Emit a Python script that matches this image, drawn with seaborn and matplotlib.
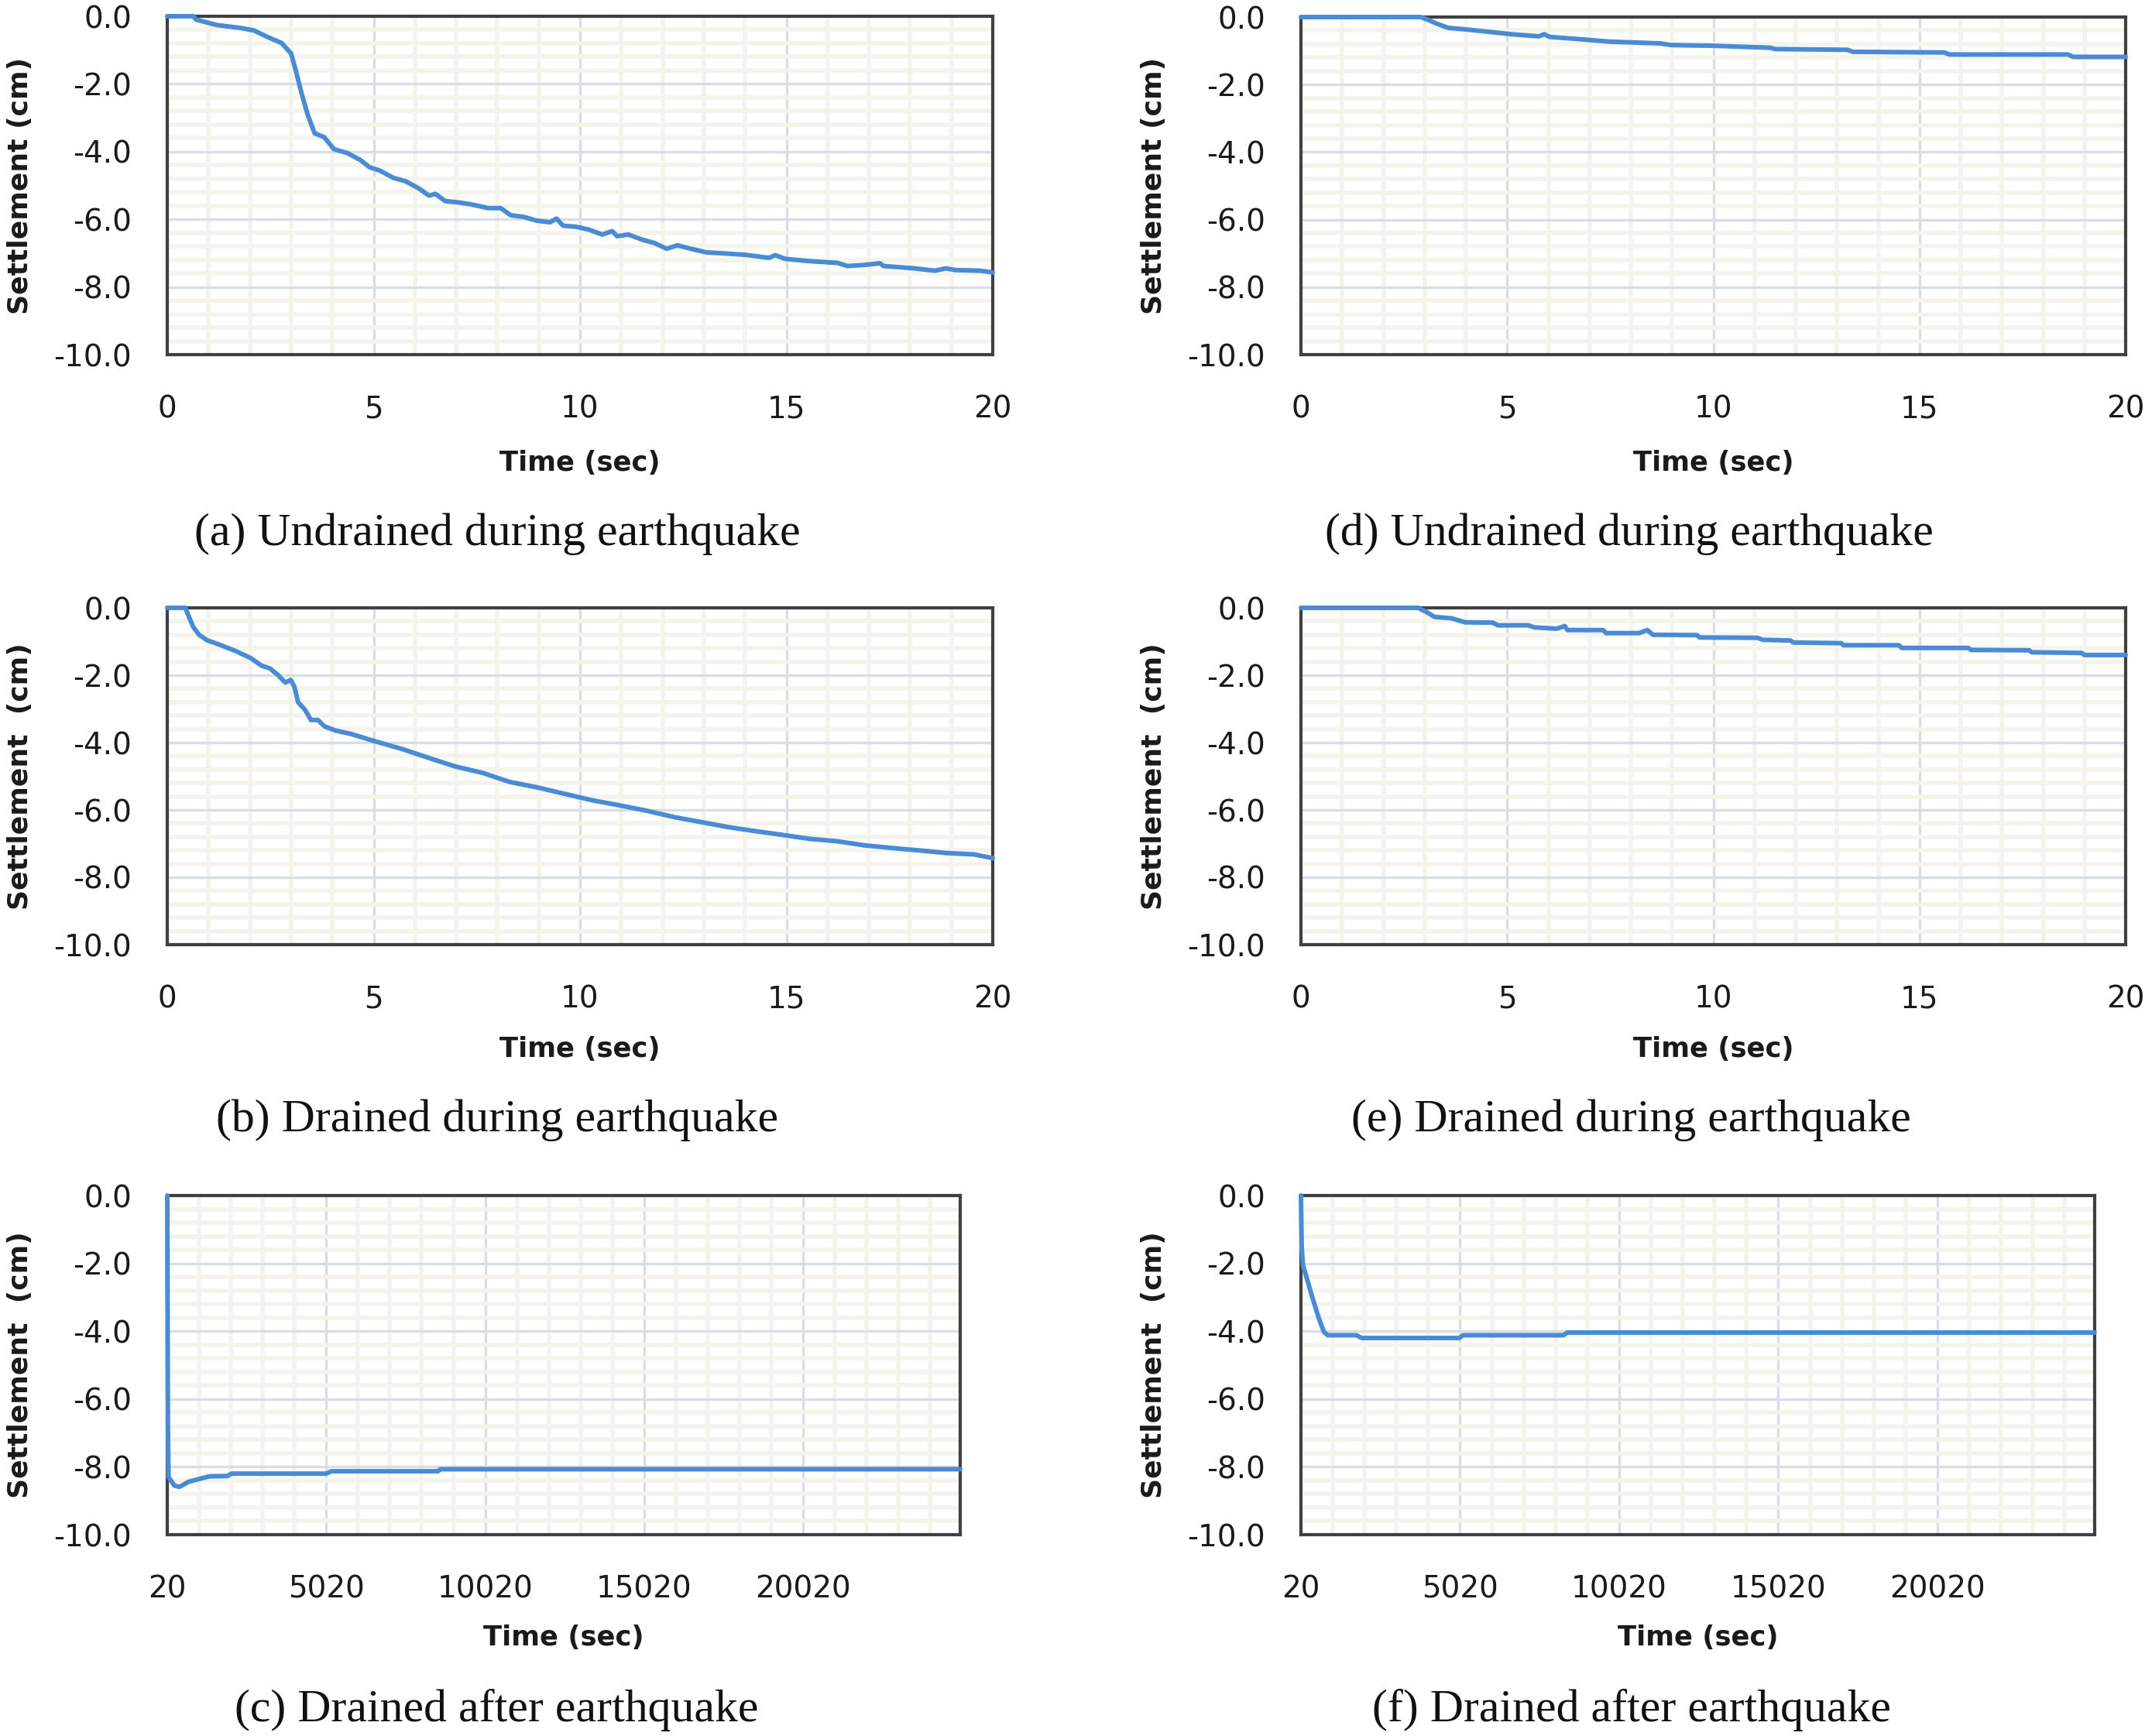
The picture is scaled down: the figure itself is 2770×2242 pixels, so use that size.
import numpy as np
import pandas as pd
import matplotlib
matplotlib.use("Agg")
import matplotlib.pyplot as plt
import seaborn as sns

# ---------------- data ----------------
# (a) Undrained during earthquake
t_a = [0, 0.63, 0.7, 1.2, 1.8, 2.1, 2.46, 2.77, 3.0, 3.12, 3.25, 3.4, 3.57, 3.8, 4.04, 4.36,
       4.68, 4.9, 5.15, 5.47, 5.78, 6.1, 6.34, 6.5, 6.73, 7.05, 7.37, 7.77, 8.08, 8.32, 8.64,
       8.95, 9.27, 9.43, 9.59, 9.9, 10.2, 10.54, 10.78, 10.9, 11.17, 11.5, 11.8, 12.1, 12.36,
       12.68, 13.07, 13.39, 14.0, 14.58, 14.73, 14.97, 15.6, 16.24, 16.48, 16.88, 17.27, 17.35,
       18.1, 18.6, 18.86, 19.1, 19.7, 20.0]
s_a = [0, 0, -0.1, -0.26, -0.35, -0.42, -0.63, -0.79, -1.1, -1.63, -2.26, -2.9, -3.46, -3.57,
       -3.93, -4.04, -4.25, -4.46, -4.56, -4.77, -4.88, -5.09, -5.3, -5.25, -5.46, -5.5, -5.56,
       -5.67, -5.67, -5.88, -5.93, -6.04, -6.09, -5.98, -6.19, -6.22, -6.3, -6.45, -6.35, -6.5,
       -6.45, -6.6, -6.7, -6.87, -6.77, -6.87, -6.98, -7.0, -7.05, -7.14, -7.06, -7.17, -7.24,
       -7.29, -7.38, -7.35, -7.3, -7.38, -7.45, -7.52, -7.45, -7.5, -7.52, -7.57]

# (b) Drained during earthquake
t_b = [0, 0.44, 0.5, 0.63, 0.77, 0.96, 1.3, 1.69, 2.02, 2.29, 2.49, 2.68, 2.86, 2.99, 3.08,
       3.17, 3.34, 3.48, 3.65, 3.81, 4.07, 4.47, 5.0, 5.66, 6.32, 6.98, 7.64, 8.3, 8.96, 9.62,
       10.28, 10.94, 11.6, 12.27, 12.93, 13.59, 14.25, 14.9, 15.57, 16.23, 16.89, 17.55, 18.2,
       18.88, 19.54, 20.0]
s_b = [0, 0, -0.19, -0.57, -0.8, -0.96, -1.11, -1.3, -1.49, -1.72, -1.8, -1.99, -2.22, -2.14,
       -2.34, -2.8, -3.03, -3.33, -3.33, -3.52, -3.64, -3.75, -3.95, -4.18, -4.45, -4.71, -4.9,
       -5.17, -5.33, -5.52, -5.71, -5.86, -6.02, -6.21, -6.36, -6.51, -6.63, -6.74, -6.86,
       -6.93, -7.05, -7.13, -7.2, -7.28, -7.32, -7.43]

# (c) Drained after earthquake
t_c = [20, 40, 60, 240, 404, 690, 1017, 1343, 1915, 2038, 5020, 5183, 8533, 8615, 24960]
s_c = [0, -6.75, -8.3, -8.55, -8.59, -8.44, -8.36, -8.28, -8.27, -8.2, -8.2, -8.13, -8.13,
       -8.07, -8.07]

# (d) Undrained during earthquake
t_d = [0, 2.9, 3.1, 3.3, 3.57, 4.03, 4.57, 5.1, 5.77, 5.9, 6.04, 6.7, 7.5, 8.7, 8.98, 9.98,
       11.38, 11.5, 13.25, 13.39, 15.6, 15.73, 18.6, 18.73, 20.0]
s_d = [0, 0, -0.09, -0.2, -0.32, -0.37, -0.44, -0.51, -0.57, -0.51, -0.59, -0.65, -0.73,
       -0.78, -0.83, -0.85, -0.91, -0.95, -0.97, -1.03, -1.05, -1.11, -1.11, -1.18, -1.18]

# (e) Drained during earthquake
t_e = [0, 2.84, 3.04, 3.24, 3.65, 3.98, 4.65, 4.78, 5.52, 5.66, 6.2, 6.4, 6.46, 7.33, 7.4,
       8.2, 8.4, 8.54, 9.6, 9.67, 11.07, 11.2, 11.87, 11.94, 13.1, 13.16, 14.5, 14.57, 16.18,
       16.25, 17.66, 17.72, 18.93, 19.0, 20.0]
s_e = [0, 0, -0.12, -0.27, -0.31, -0.43, -0.44, -0.52, -0.52, -0.58, -0.62, -0.54, -0.66,
       -0.66, -0.75, -0.75, -0.66, -0.8, -0.81, -0.88, -0.89, -0.95, -0.97, -1.03, -1.05,
       -1.11, -1.11, -1.19, -1.19, -1.25, -1.26, -1.32, -1.34, -1.4, -1.4]

# (f) Drained after earthquake
t_f = [20, 45, 85, 208, 372, 576, 740, 863, 1763, 1927, 4995, 5118, 8268, 8391, 24960]
s_f = [0, -1.56, -2.06, -2.45, -2.98, -3.6, -4.02, -4.12, -4.12, -4.2, -4.2, -4.12, -4.12,
       -4.04, -4.04]

# tick labels
y_ticks = [0.0, -2.0, -4.0, -6.0, -8.0, -10.0]
y_ticklabels = ["0.0", "-2.0", "-4.0", "-6.0", "-8.0", "-10.0"]
x_ticks_short = [0, 5, 10, 15, 20]
x_ticklabels_short = ["0", "5", "10", "15", "20"]
x_ticks_long = [20, 5020, 10020, 15020, 20020]
x_ticklabels_long = ["20", "5020", "10020", "15020", "20020"]

captions = ["(a) Undrained during earthquake", "(b) Drained during earthquake",
            "(c) Drained after earthquake", "(d) Undrained during earthquake",
            "(e) Drained during earthquake", "(f) Drained after earthquake"]
ylabels = ["Settlement (cm)", "Settlement  (cm)", "Settlement  (cm)",
           "Settlement (cm)", "Settlement  (cm)", "Settlement  (cm)"]
xlabel = "Time (sec)"

# ---------------- styling ----------------
sns.set_theme(style="white")
plt.rcParams["font.family"] = ["DejaVu Sans"]
plt.rcParams["axes.unicode_minus"] = False

W, H = 2770, 2242
fig = plt.figure(figsize=(W / 100, H / 100), dpi=100)
fig.patch.set_facecolor("white")

LINE_C = "#4A8BD6"
SPINE_C = "#404040"
MAJ_C = "#D9DEE6"
MIN_C = "#F4F3EC"

# axes boxes in pixels: left, right, top, bottom
boxes = [
    (216, 1282, 21, 458),
    (216, 1282, 785, 1220),
    (216, 1240, 1544, 1982),
    (1680, 2745, 22, 458),
    (1680, 2745, 785, 1220),
    (1680, 2705, 1544, 1982),
]
series = [(t_a, s_a), (t_b, s_b), (t_c, s_c), (t_d, s_d), (t_e, s_e), (t_f, s_f)]
long_axis = [False, False, True, False, False, True]
caption_x = [642, 642, 641, 2104, 2106, 2107]
caption_y = [690, 1447, 2208, 690, 1447, 2208]
xlabel_y = [598, 1355, 2115, 598, 1355, 2115]
ylabel_x = [26, 26, 26, 1490, 1490, 1490]

for i, ((l, r, t, b), (tx, sy)) in enumerate(zip(boxes, series)):
    ax = fig.add_axes([l / W, 1 - b / H, (r - l) / W, (b - t) / H])
    df = pd.DataFrame({"t": tx, "s": sy})
    sns.lineplot(data=df, x="t", y="s", ax=ax, color=LINE_C, lw=4.3,
                 estimator=None, sort=False, zorder=5)
    for ln in ax.lines:
        ln.set_clip_on(False)
        ln.set_solid_joinstyle("round")

    ax.set_ylim(-10, 0)
    ax.set_yticks(y_ticks)
    ax.set_yticklabels(y_ticklabels)
    ax.set_yticks(np.arange(-10, 0.01, 0.4), minor=True)
    if long_axis[i]:
        ax.set_xlim(20, 24960)
        ax.set_xticks(x_ticks_long)
        ax.set_xticklabels(x_ticklabels_long)
        ax.set_xticks(np.arange(1020, 24960, 1000), minor=True)
    else:
        ax.set_xlim(0, 20)
        ax.set_xticks(x_ticks_short)
        ax.set_xticklabels(x_ticklabels_short)
        ax.set_xticks(np.arange(0, 20.01, 1), minor=True)

    ax.set_axisbelow(True)
    ax.grid(which="minor", color=MIN_C, lw=4.0)
    ax.grid(which="major", color=MAJ_C, lw=2.4)
    ax.tick_params(which="both", length=0)
    ax.tick_params(axis="x", pad=37, labelsize=28, labelcolor="#1a1a1a")
    ax.tick_params(axis="y", pad=33, labelsize=28, labelcolor="#1a1a1a")
    for sp in ax.spines.values():
        sp.set_visible(True)
        sp.set_color(SPINE_C)
        sp.set_linewidth(3.0)
        sp.set_zorder(4)

    ax.set_xlabel("")
    ax.set_ylabel("")
    fig.text(ylabel_x[i] / W, 1 - ((t + b) / 2) / H, ylabels[i], rotation=90,
             ha="center", va="center", fontsize=26, fontweight="bold", color="#1a1a1a")
    fig.text((l + r) / 2 / W, 1 - xlabel_y[i] / H, xlabel, ha="center", va="center",
             fontsize=25.5, fontweight="bold", color="#1a1a1a")
    fig.text(caption_x[i] / W, 1 - caption_y[i] / H, captions[i], ha="center",
             va="center", fontsize=43, family=["Liberation Serif", "DejaVu Serif"],
             color="#111111")

fig.savefig("out.png", dpi=100, facecolor="white")
